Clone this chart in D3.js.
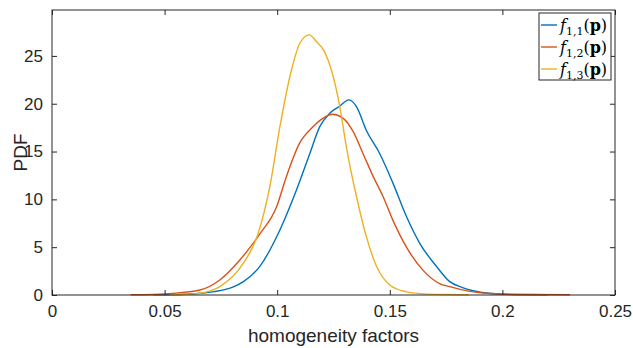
<!DOCTYPE html>
<html>
<head>
<meta charset="utf-8">
<script src="https://cdn.jsdelivr.net/npm/d3@7"></script>
<style>
  body { margin: 0; background: #fff; }
  svg { display: block; }
  .tick text { font-family: "Liberation Sans", Arial, sans-serif; }
</style>
</head>
<body>
<div id="chart"></div>
<script>
// kernel density curves
const xF11 = [0.045, 0.055, 0.065, 0.072, 0.080, 0.085, 0.0923, 0.1012, 0.1086, 0.1145, 0.1189, 0.1233, 0.1278, 0.1318, 0.1352, 0.1396, 0.1455, 0.1514, 0.1574, 0.1633, 0.1707, 0.1766, 0.182, 0.187, 0.195, 0.205, 0.22];
const yF11 = [0.02, 0.05, 0.15, 0.35, 0.8, 1.4, 3.0, 6.8, 11.0, 14.8, 17.6, 19.0, 19.75, 20.4, 19.7, 17.2, 14.8, 11.7, 8.2, 5.4, 3.0, 1.4, 0.8, 0.45, 0.15, 0.05, 0.02];

const xF12 = [0.035, 0.045, 0.055, 0.0657, 0.0745, 0.0834, 0.0923, 0.0997, 0.1041, 0.110, 0.1159, 0.1204, 0.1245, 0.1292, 0.1337, 0.1381, 0.1426, 0.147, 0.1514, 0.1574, 0.1647, 0.1721, 0.1766, 0.185, 0.195, 0.21, 0.23];
const yF12 = [0.02, 0.06, 0.2, 0.52, 1.57, 3.66, 6.4, 9.2, 12.4, 15.9, 17.6, 18.5, 18.9, 18.5, 17.1, 14.8, 12.4, 10.3, 7.8, 5.0, 2.6, 1.2, 0.87, 0.4, 0.15, 0.05, 0.02];

const xF13 = [0.052, 0.06, 0.0657, 0.0745, 0.0849, 0.0915, 0.0967, 0.1012, 0.1063, 0.110, 0.1142, 0.1174, 0.1211, 0.1241, 0.1278, 0.1307, 0.1352, 0.1396, 0.1441, 0.150, 0.157, 0.165, 0.175, 0.185];
const yF13 = [0.02, 0.08, 0.18, 0.87, 3.3, 6.4, 11.3, 17.6, 23.5, 26.3, 27.2, 26.5, 25.4, 23.5, 19.7, 15.5, 10.3, 6.1, 3.0, 1.04, 0.35, 0.12, 0.05, 0.02];

const seriesNames = ["1,1", "1,2", "1,3"];
const colors = ["#0072BD", "#D95319", "#EDB120"];
const xTicks = [0, 0.05, 0.1, 0.15, 0.2, 0.25];
const xTickLabels = ["0", "0.05", "0.1", "0.15", "0.2", "0.25"];
const yTicks = [0, 5, 10, 15, 20, 25];

var width = 633, height = 348;
var margin = {top: 10, right: 18, bottom: 53, left: 52};
var axisColor = "#262626";

var svg = d3.select("#chart").append("svg")
    .attr("width", width)
    .attr("height", height);

var x = d3.scaleLinear().domain([0, 0.25]).range([margin.left, width - margin.right]);
var y = d3.scaleLinear().domain([0, 29.8]).range([height - margin.bottom, margin.top]);

// curves
var series = [
    {xs: xF11, ys: yF11},
    {xs: xF12, ys: yF12},
    {xs: xF13, ys: yF13}
];
var line = d3.line()
    .x(d => x(d[0]))
    .y(d => y(d[1]))
    .curve(d3.curveMonotoneX);

svg.append("g").selectAll("path")
    .data(series)
    .join("path")
    .attr("fill", "none")
    .attr("stroke", (d, i) => colors[i])
    .attr("stroke-width", 1.4)
    .attr("d", d => line(d.xs.map((v, i) => [v, d.ys[i]])));

// axes, box on with ticks pointing inwards
function styleAxis(g) {
    g.select(".domain").remove();
    g.selectAll(".tick line").attr("stroke", axisColor);
    g.selectAll(".tick text").attr("fill", axisColor).style("font-size", "17px");
}
svg.append("g")
    .attr("transform", `translate(0,${y(0)})`)
    .call(d3.axisBottom(x).tickValues(xTicks).tickFormat((d, i) => xTickLabels[i]).tickSizeInner(-5).tickSizeOuter(0).tickPadding(10))
    .call(styleAxis);
svg.append("g")
    .attr("transform", `translate(0,${y(29.8)})`)
    .call(d3.axisTop(x).tickValues(xTicks).tickFormat("").tickSizeInner(-5).tickSizeOuter(0))
    .call(styleAxis);
svg.append("g")
    .attr("transform", `translate(${x(0)},0)`)
    .call(d3.axisLeft(y).tickValues(yTicks).tickSizeInner(-5).tickSizeOuter(0).tickPadding(9))
    .call(styleAxis);
svg.append("g")
    .attr("transform", `translate(${x(0.25)},0)`)
    .call(d3.axisRight(y).tickValues(yTicks).tickFormat("").tickSizeInner(-5).tickSizeOuter(0))
    .call(styleAxis);

svg.append("rect")
    .attr("x", x(0)).attr("y", y(29.8))
    .attr("width", x(0.25) - x(0)).attr("height", y(0) - y(29.8))
    .attr("fill", "none").attr("stroke", axisColor).attr("stroke-width", 1);

// axis labels
svg.append("text")
    .attr("x", (x(0) + x(0.25)) / 2).attr("y", 342)
    .attr("text-anchor", "middle")
    .attr("fill", axisColor)
    .style("font-family", "Liberation Sans, Arial, sans-serif").style("font-size", "19px")
    .text("homogeneity factors");
svg.append("text")
    .attr("transform", `translate(27,${(y(0) + y(29.8)) / 2}) rotate(-90)`)
    .attr("text-anchor", "middle")
    .attr("fill", axisColor)
    .style("font-family", "Liberation Sans, Arial, sans-serif").style("font-size", "19px")
    .text("PDF");

// legend
var lg = svg.append("g");
lg.append("rect")
    .attr("x", 539).attr("y", 13).attr("width", 72).attr("height", 67)
    .attr("fill", "#fff").attr("stroke", axisColor).attr("stroke-width", 1);
seriesNames.forEach((s, i) => {
    var yy = 25 + i * 22;
    lg.append("line")
        .attr("x1", 541).attr("x2", 557).attr("y1", yy).attr("y2", yy)
        .attr("stroke", colors[i]).attr("stroke-width", 1.4);
    var t = lg.append("text")
        .attr("x", 560).attr("y", yy + 6)
        .attr("fill", "#000")
        .style("font-family", "DejaVu Serif, Liberation Serif, serif").style("font-size", "16px");
    t.append("tspan").style("font-style", "italic").text("f");
    t.append("tspan").attr("dy", 4).style("font-size", "11px").text(s);
    t.append("tspan").attr("dy", -4).text("(");
    t.append("tspan").style("font-weight", "bold").text("p");
    t.append("tspan").text(")");
});
</script>
</body>
</html>
